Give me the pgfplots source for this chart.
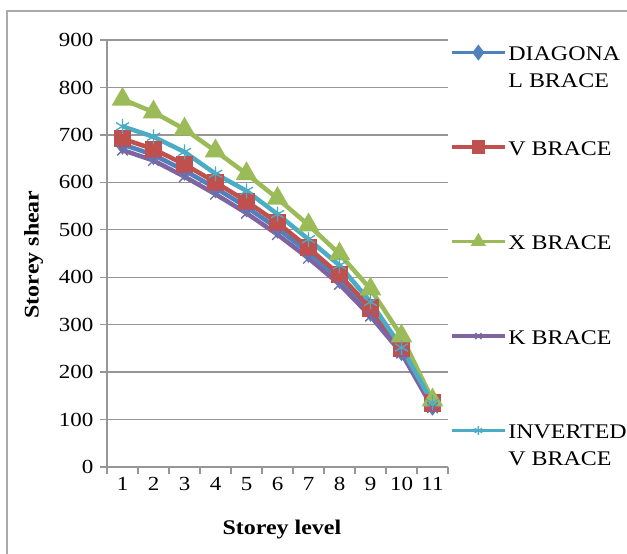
\documentclass[border=0pt]{standalone}
\usepackage{pgfplots}
\pgfplotsset{compat=1.18}
\usepackage{fontspec}
\setmainfont[FakeStretch=1.15]{Liberation Serif}
\definecolor{cBlue}{RGB}{79,129,189}
\definecolor{cRed}{RGB}{192,80,77}
\definecolor{cGreen}{RGB}{155,187,89}
\definecolor{cPurple}{RGB}{128,100,162}
\definecolor{cCyan}{RGB}{75,172,198}
\definecolor{cGrid}{RGB}{150,150,150}
\newcommand{\ent}[2]{\begin{tabular}[t]{@{}l@{}}#1\\#2\end{tabular}}
\begin{document}
\begin{tikzpicture}
\useasboundingbox (0pt,0pt) rectangle (376.2pt,331.8pt);
\draw[cGrid!80, line width=1.2pt] (3.9pt,-10pt) -- (3.9pt,325.2pt) -- (390pt,325.2pt);
\begin{axis}[
  at={(64.2pt,51.6pt)}, anchor=south west,
  scale only axis, width=204.6pt, height=256.2pt,
  xmin=0.5, xmax=11.5, ymin=0, ymax=900,
  axis lines=left, axis line style={cGrid, -, line width=0.8pt},
  xtick={1,...,11}, minor xtick={0.5,1.5,...,11.5},
  major x tick style={draw=none},
  ytick={0,100,...,900},
  tick align=outside, tick style={cGrid, line width=0.8pt},
  major tick length=4.2pt, minor tick length=4.2pt,
  ymajorgrids, grid style={cGrid, line width=0.8pt},
  /pgf/number format/assume math mode=true,
  tick label style={font=\fontsize{12}{14}\selectfont},
  yticklabel style={xshift=-0.5pt},
  xticklabel style={yshift=1.5pt},
  xlabel={\textbf{Storey level}}, ylabel={\textbf{Storey shear}},
  label style={font=\fontsize{12.5}{14}\selectfont},
  xlabel style={at={(axis description cs:0.513,-0.147)}, anchor=center},
  ylabel style={at={(axis description cs:-0.215,0.498)}, anchor=center, rotate=0},
  every axis plot/.append style={line width=2.7pt, mark size=4pt},
  legend style={at={(axis description cs:1.005,1.004)}, anchor=north west, draw=none, fill=none,
    font=\fontsize{12.5}{16}\selectfont, row sep=40pt, column sep=0pt, inner sep=0pt,
    nodes={inner xsep=1pt}},
  legend cell align=left,
  legend image code/.code={
    \draw[#1, line width=2pt] (0cm,0cm) -- (32pt,0cm);
    \draw[#1, mark size=2.6pt, mark repeat=1, mark phase=1] plot coordinates {(16pt,0cm)};
  },
  clip=false,
]
\addplot[color=cBlue, mark=diamond*, mark options={solid}] coordinates {
(1,680)(2,658)(3,625)(4,588)(5,548)(6,503)(7,452)(8,397)(9,328)(10,245)(11,130)};
\addlegendentry{\ent{DIAGONA}{L BRACE}}
\addplot[color=cRed, mark=square*, mark size=3.8pt] coordinates {
(1,692)(2,670)(3,638)(4,600)(5,560)(6,515)(7,462)(8,405)(9,335)(10,250)(11,135)};
\addlegendentry{\ent{V BRACE}{\mbox{}}}
\addplot[color=cGreen, mark=triangle*, mark size=4.8pt] coordinates {
(1,775)(2,748)(3,712)(4,666)(5,618)(6,566)(7,510)(8,449)(9,375)(10,276)(11,141)};
\addlegendentry{\ent{X BRACE}{\mbox{}}}
\addplot[color=cPurple, mark=x, mark size=4.5pt, mark options={line width=0.8pt}] coordinates {
(1,668)(2,646)(3,612)(4,575)(5,535)(6,490)(7,440)(8,385)(9,318)(10,240)(11,125)};
\addlegendentry{\ent{K BRACE}{\mbox{}}}
\addplot[color=cCyan, mark=asterisk, mark size=4.5pt, mark options={line width=0.8pt}] coordinates {
(1,718)(2,696)(3,664)(4,618)(5,582)(6,533)(7,480)(8,425)(9,348)(10,252)(11,135)};
\addlegendentry{\ent{INVERTED}{V BRACE}}
\end{axis}
\end{tikzpicture}
\end{document}
